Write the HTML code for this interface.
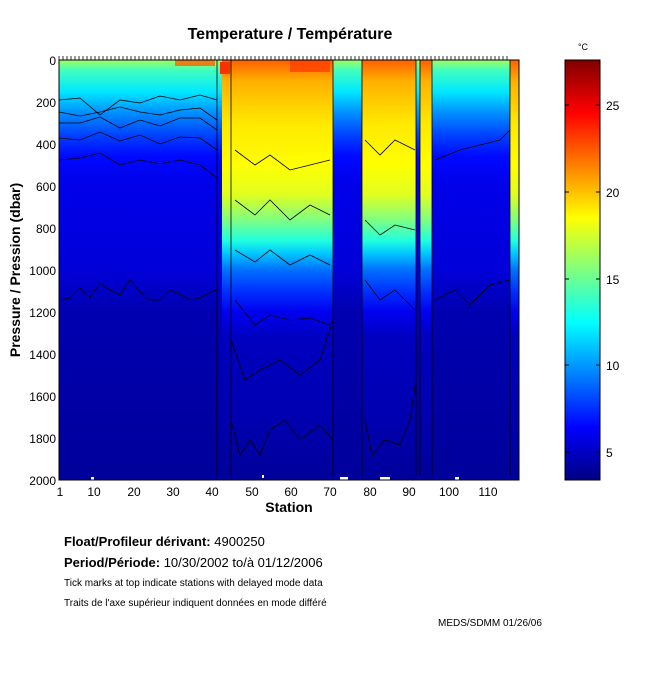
<!DOCTYPE html>
<html><head><meta charset="utf-8"><style>
body{margin:0;background:#fff;}
svg text{font-family:"Liberation Sans",sans-serif;}
</style></head><body>
<svg width="650" height="680" xmlns="http://www.w3.org/2000/svg">
<defs>
<linearGradient id="cold" x1="0" y1="0" x2="0" y2="1">
<stop offset="0" stop-color="#a0ff60"/>
<stop offset="0.025" stop-color="#40ffc0"/>
<stop offset="0.075" stop-color="#00e8ff"/>
<stop offset="0.125" stop-color="#0090ff"/>
<stop offset="0.18" stop-color="#0040ff"/>
<stop offset="0.23" stop-color="#0008ff"/>
<stop offset="0.3" stop-color="#0000e8"/>
<stop offset="0.5" stop-color="#0000d8"/>
<stop offset="0.6" stop-color="#0000b0"/>
<stop offset="1" stop-color="#00009a"/>
</linearGradient>
<linearGradient id="warm" x1="0" y1="0" x2="0" y2="1">
<stop offset="0" stop-color="#ff6000"/>
<stop offset="0.05" stop-color="#ffb000"/>
<stop offset="0.15" stop-color="#ffe800"/>
<stop offset="0.25" stop-color="#ffff00"/>
<stop offset="0.32" stop-color="#e0ff20"/>
<stop offset="0.38" stop-color="#80ff80"/>
<stop offset="0.43" stop-color="#20ffe0"/>
<stop offset="0.46" stop-color="#00c8ff"/>
<stop offset="0.5" stop-color="#0070ff"/>
<stop offset="0.55" stop-color="#0030ff"/>
<stop offset="0.6" stop-color="#0000f0"/>
<stop offset="0.66" stop-color="#0000c0"/>
<stop offset="0.85" stop-color="#0000b0"/>
<stop offset="1" stop-color="#00009a"/>
</linearGradient>
<linearGradient id="cb" x1="0" y1="1" x2="0" y2="0">
<stop offset="0" stop-color="#000080"/>
<stop offset="0.125" stop-color="#0000ff"/>
<stop offset="0.375" stop-color="#00ffff"/>
<stop offset="0.625" stop-color="#ffff00"/>
<stop offset="0.875" stop-color="#ff0000"/>
<stop offset="1" stop-color="#800000"/>
</linearGradient>
</defs>
<text x="290" y="39" font-size="16" font-weight="bold" text-anchor="middle">Temperature / Température</text>
<rect x="59" y="60" width="460" height="420" fill="url(#cold)"/>
<rect x="220" y="60" width="113" height="420" fill="url(#warm)"/>
<rect x="362" y="60" width="54" height="420" fill="url(#warm)"/>
<rect x="420" y="60" width="12" height="420" fill="url(#warm)"/>
<rect x="510" y="60" width="9" height="420" fill="url(#warm)"/>
<rect x="217" y="60" width="5" height="420" fill="url(#cold)"/>
<rect x="220" y="62" width="10" height="12" fill="#ff3000"/>
<rect x="290" y="60" width="40" height="12" fill="#ff4000" opacity="0.8"/>
<rect x="175" y="60" width="40" height="6" fill="#ff6000" opacity="0.8"/>
<g fill="none" stroke="#000" stroke-width="0.8">
<polyline points="59,100 80,98 100,115 120,100 140,103 160,96 180,100 200,95 217,100"/>
<polyline points="59,112 80,116 100,112 120,107 140,112 160,115 180,110 200,108 217,120"/>
<polyline points="59,123 80,123 100,117 120,128 140,120 160,126 180,118 200,118 217,130"/>
<polyline points="59,138 80,140 100,132 120,141 140,135 160,144 180,137 200,138 217,150"/>
<polyline points="59,160 80,158 100,153 120,165 140,160 160,164 180,160 200,165 217,178"/>
<polyline points="59,300 70,298 80,288 90,297 100,283 110,290 120,295 130,280 140,292 150,300 160,300 170,290 180,294 190,300 200,298 215,290"/>
<polyline points="235,150 255,165 270,155 290,170 310,165 330,160"/>
<polyline points="235,200 255,215 270,200 290,220 310,205 330,215"/>
<polyline points="235,250 255,262 270,250 290,265 310,255 330,265"/>
<polyline points="235,300 255,325 270,315 290,320 310,318 330,325"/>
<polyline points="231,340 245,380 260,370 280,360 300,375 320,360 333,320"/>
<polyline points="231,420 240,455 250,440 260,455 270,430 285,420 300,440 320,425 333,440"/>
<polyline points="365,140 380,155 395,140 415,150"/>
<polyline points="365,220 380,235 395,225 415,230"/>
<polyline points="365,280 380,300 395,290 415,310"/>
<polyline points="365,420 372,455 385,440 400,445 410,420 416,380"/>
<polyline points="435,160 460,150 480,145 500,140 510,130"/>
<polyline points="435,300 455,290 470,305 490,285 510,280"/>
<polyline points="217,60 217,480"/><polyline points="231,60 231,480"/>
<polyline points="333,60 333,480"/><polyline points="362,60 362,480"/>
<polyline points="416,60 416,480"/><polyline points="420,60 420,480"/>
<polyline points="432,60 432,480"/><polyline points="510,60 510,480"/>
</g>
<rect x="59" y="476" width="460" height="4" fill="#00009a"/>
<rect x="91" y="477" width="3" height="3" fill="#fff"/><rect x="262" y="475" width="2" height="3" fill="#fff"/><rect x="340" y="477" width="8" height="3" fill="#fff"/><rect x="380" y="477" width="10" height="3" fill="#fff"/><rect x="455" y="477" width="4" height="3" fill="#fff"/>
<rect x="59" y="60" width="460" height="420" fill="none" stroke="#000" stroke-width="1"/>
<path d="M59,56V60M63,56V60M67,56V60M71,56V60M75,56V60M79,56V60M83,56V60M87,56V60M91,56V60M95,56V60M99,56V60M103,56V60M107,56V60M111,56V60M115,56V60M119,56V60M123,56V60M127,56V60M131,56V60M135,56V60M139,56V60M143,56V60M147,56V60M151,56V60M155,56V60M159,56V60M163,56V60M167,56V60M171,56V60M175,56V60M179,56V60M183,56V60M187,56V60M191,56V60M195,56V60M199,56V60M203,56V60M207,56V60M211,56V60M215,56V60M219,56V60M223,56V60M227,56V60M231,56V60M235,56V60M239,56V60M243,56V60M247,56V60M251,56V60M255,56V60M259,56V60M263,56V60M267,56V60M271,56V60M275,56V60M279,56V60M283,56V60M287,56V60M291,56V60M295,56V60M299,56V60M303,56V60M307,56V60M311,56V60M315,56V60M319,56V60M323,56V60M327,56V60M331,56V60M335,56V60M339,56V60M343,56V60M347,56V60M351,56V60M355,56V60M359,56V60M363,56V60M367,56V60M371,56V60M375,56V60M379,56V60M383,56V60M387,56V60M391,56V60M395,56V60M399,56V60M403,56V60M407,56V60M411,56V60M415,56V60M419,56V60M423,56V60M427,56V60M431,56V60M435,56V60M439,56V60M443,56V60M447,56V60M451,56V60M455,56V60M459,56V60M463,56V60M467,56V60M471,56V60M475,56V60M479,56V60M483,56V60M487,56V60M491,56V60M495,56V60M499,56V60M503,56V60M507,56V60" stroke="#000" stroke-width="0.8"/>
<g font-size="12" text-anchor="end">
<text x="56" y="65">0</text><text x="56" y="107">200</text><text x="56" y="149">400</text><text x="56" y="191">600</text><text x="56" y="233">800</text><text x="56" y="275">1000</text><text x="56" y="317">1200</text><text x="56" y="359">1400</text><text x="56" y="401">1600</text><text x="56" y="443">1800</text><text x="56" y="485">2000</text>
</g>
<g font-size="12" text-anchor="middle">
<text x="60" y="496">1</text><text x="94" y="496">10</text><text x="134" y="496">20</text><text x="173" y="496">30</text><text x="212" y="496">40</text><text x="252" y="496">50</text><text x="291" y="496">60</text><text x="330" y="496">70</text><text x="370" y="496">80</text><text x="409" y="496">90</text><text x="449" y="496">100</text><text x="488" y="496">110</text>
</g>
<text x="289" y="512" font-size="14" font-weight="bold" text-anchor="middle">Station</text>
<text transform="translate(20,270) rotate(-90)" font-size="14" font-weight="bold" text-anchor="middle">Pressure / Pression (dbar)</text>
<rect x="565" y="60" width="35" height="420" fill="url(#cb)" stroke="#000" stroke-width="1"/>
<path d="M565,452h4M596,452h4M565,365h4M596,365h4M565,279h4M596,279h4M565,192h4M596,192h4M565,105h4M596,105h4" stroke="#000"/>
<g font-size="12"><text x="606" y="457">5</text><text x="606" y="370">10</text><text x="606" y="284">15</text><text x="606" y="197">20</text><text x="606" y="110">25</text></g>
<text x="583" y="50" font-size="9" text-anchor="middle">°C</text>
<text x="64" y="546" font-size="13"><tspan font-weight="bold">Float/Profileur dérivant:</tspan>  4900250</text>
<text x="64" y="567" font-size="13"><tspan font-weight="bold">Period/Période:</tspan> 10/30/2002  to/à  01/12/2006</text>
<text x="64" y="586" font-size="10">Tick marks at top indicate stations with delayed mode data</text>
<text x="64" y="606" font-size="10">Traits de l'axe supérieur indiquent données en mode différé</text>
<text x="438" y="626" font-size="10">MEDS/SDMM  01/26/06</text>
</svg>
</body></html>
